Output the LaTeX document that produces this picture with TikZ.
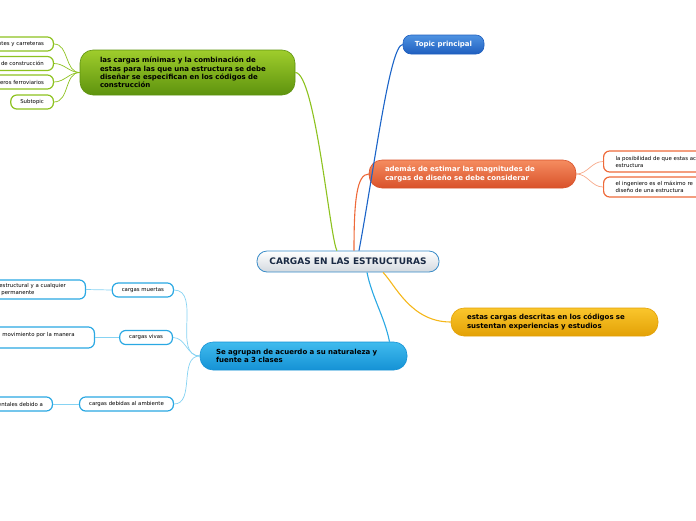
\documentclass[tikz,border=0pt]{standalone}
\usepackage{fontspec}
\usepackage{tikz}
\newfontfamily\mapfont{DejaVu Sans}

\definecolor{grn}{HTML}{8DC21F}
\definecolor{grntop}{HTML}{9FCD2C}
\definecolor{grnbot}{HTML}{5E930E}
\definecolor{blu}{HTML}{1B64C8}
\definecolor{blutop}{HTML}{4F93E2}
\definecolor{blubot}{HTML}{1F5FBF}
\definecolor{org}{HTML}{EE6A3A}
\definecolor{orgtop}{HTML}{F58C60}
\definecolor{orgbot}{HTML}{D9522A}
\definecolor{orglite}{HTML}{F7A98A}
\definecolor{yel}{HTML}{F5B71A}
\definecolor{yeltop}{HTML}{FAC62C}
\definecolor{yelbot}{HTML}{E3A106}
\definecolor{sky}{HTML}{2AA8E3}
\definecolor{skytop}{HTML}{40BBEE}
\definecolor{skybot}{HTML}{1592D5}
\definecolor{skylite}{HTML}{86D3F3}
\definecolor{cgray}{HTML}{D3D9DF}
\definecolor{cblue}{HTML}{3A8CC8}
\definecolor{navy}{HTML}{1A2A44}

\tikzset{
	topic/.style={rounded corners=13pt, line width=0.6pt, minimum height=28pt,
		text width=175pt, inner xsep=16pt, inner ysep=2pt, align=left,
		font=\mapfont\bfseries\fontsize{7}{8.4}\selectfont},
	sub/.style={draw, line width=1.2pt, rounded corners=6pt, fill=white,
		minimum height=14pt, inner xsep=9.5pt, inner ysep=1pt,
		font=\mapfont\fontsize{5.4}{7}\selectfont},
	mainline/.style={line width=1.1pt},
	subline/.style={line width=0.7pt}
}

\begin{document}
\begin{tikzpicture}[x=1pt,y=-1pt]
\useasboundingbox (0,0) rectangle (696,520);
\clip (0,0) rectangle (696,520);

	% main topics
	\begin{scope}[every node/.style={topic}]
		\node[top color=grntop, bottom color=grnbot, draw=grnbot, inner xsep=20pt,
			minimum height=45pt] (G) at (187.5,72.5)
			{las cargas mínimas  y la combinación de\\estas  para las que una estructura  se debe\\diseñar se especifican en los códigos de\\construcción};
		\node[top color=orgtop, bottom color=orgbot, draw=orgbot, text=white] (O) at (472.5,174)
			{además de estimar las magnitudes de\\cargas de diseño se debe considerar};
		\node[top color=yeltop, bottom color=yelbot, draw=yelbot] (Y) at (554.5,322)
			{estas cargas descritas en los códigos  se\\sustentan experiencias  y estudios};
		\node[top color=skytop, bottom color=skybot, draw=skybot] (B) at (303.5,356)
			{Se agrupan  de acuerdo a su naturaleza y\\fuente a 3 clases};
		\node[top color=blutop, bottom color=blubot, draw=blubot, text=white, text width=,
			align=center, minimum width=81pt, minimum height=19pt, rounded corners=8pt,
			inner xsep=4pt] (T) at (443.5,44.5) {Topic principal};
	\end{scope}
	\node[top color=white, bottom color=cgray, draw=cblue, line width=0.8pt,
		rounded corners=10pt, minimum width=182pt, minimum height=21pt, text=navy,
		font=\mapfont\bfseries\fontsize{9}{10}\selectfont] (C) at (348,261.5)
		{CARGAS EN LAS ESTRUCTURAS};

	% subtopics
	\begin{scope}[every node/.style={sub}]
		\node[draw=grn, anchor=east] (g1) at (54,44) {ntes y carreteras};
		\node[draw=grn, anchor=east] (g2) at (54,63.5) {de construcción};
		\node[draw=grn, anchor=east] (g3) at (54,82) {eros ferroviarios};
		\node[draw=grn, anchor=east] (g4) at (54,102) {Subtopic};
		\node[draw=org, anchor=west, text width=100pt, inner xsep=12pt, align=left,
			minimum height=21pt] (o1) at (603,161.5) {la posibilidad de que estas ac\\estructura};
		\node[draw=org, anchor=west, text width=100pt, inner xsep=12pt, align=left,
			minimum height=20pt] (o2) at (603,187) {el ingeniero es  el máximo re\\diseño de una estructura};
		\node[draw=sky, anchor=east] (c1) at (174,290) {cargas muertas};
		\node[draw=sky, anchor=east] (c2) at (173,337.5) {cargas vivas};
		\node[draw=sky, anchor=east] (c3) at (174,404) {cargas debidas al ambiente};
		\node[draw=sky, anchor=east, text width=78pt, inner xsep=8pt, align=left,
			minimum height=19pt] (d1) at (86,289.5) {estructural y a cualquier\\\hspace*{2pt}permanente};
		\node[draw=sky, anchor=east, text width=84pt, inner xsep=8pt, align=left,
			minimum height=21pt] (d2) at (95,337.5) {movimiento por la manera\\~};
		\node[draw=sky, anchor=east] (d3) at (53,404) {entales debido a};
	\end{scope}

	% branches from the centre
	\draw[mainline, grn] (G.east) .. controls +(20,0) and +(-7,-11) .. ([xshift=-11pt]C.north);
	\draw[mainline, blu] ([xshift=11pt]C.north) .. controls +(15,-80) and +(-13,0) .. (T.west);
	\draw[mainline, org] ([xshift=6pt]C.north) .. controls +(0,-50) and +(-12,0) .. (O.west);
	\draw[mainline, yel] ([xshift=35pt]C.south) .. controls +(12,12) and +(-40,0) .. (Y.west);
	\draw[mainline, sky] ([xshift=19pt]C.south) .. controls +(5,25) and +(-5,-25) .. ([xshift=86pt]B.north);

	% branches to the subtopics
	\begin{scope}[every edge/.style={draw, subline}]
		\path[grn] (G.west) edge[out=180, in=0] (g1.east);
		\path[grn] (G.west) edge[out=180, in=0] (g2.east);
		\path[grn] (G.west) edge[out=180, in=0] (g3.east);
		\path[grn] (G.west) edge[out=180, in=0] (g4.east);
		\path[orglite] (O.east) edge[out=0, in=180] (o1.west);
		\path[orglite] (O.east) edge[out=0, in=180] (o2.west);
		\path[skylite] (B.west) edge[out=180, in=0] (c1.east);
		\path[skylite] (B.west) edge[out=180, in=0] (c2.east);
		\path[skylite] (B.west) edge[out=180, in=0] (c3.east);
		\path[skylite] (c1.west) edge (d1.east);
		\path[skylite] (c2.west) edge (d2.east);
		\path[skylite] (c3.west) edge (d3.east);
	\end{scope}
\end{tikzpicture}
\end{document}
